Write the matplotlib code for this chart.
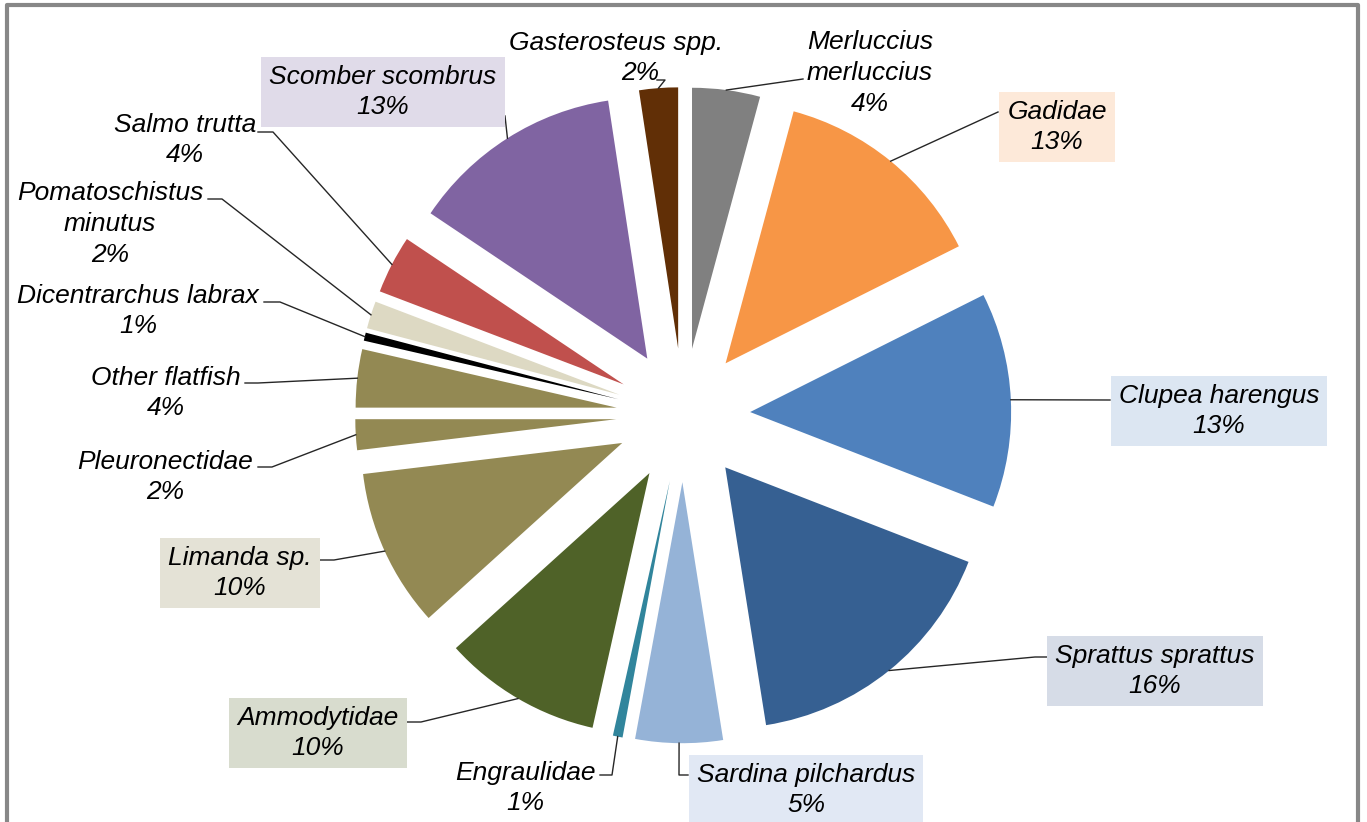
import numpy as np
import matplotlib
matplotlib.use("Agg")
from matplotlib import pyplot as plt

W, H = 1367, 822

# slices, clockwise from 12 o'clock
names = ["Merluccius\nmerluccius", "Gadidae", "Clupea harengus", "Sprattus sprattus",
         "Sardina pilchardus", "Engraulidae", "Ammodytidae", "Limanda sp.",
         "Pleuronectidae", "Other flatfish", "Dicentrarchus labrax",
         "Pomatoschistus\nminutus", "Salmo trutta", "Scomber scombrus", "Gasterosteus spp."]
shares = [4.2, 13.4, 13.3, 16.6, 5.4, 0.6, 9.8, 9.8, 1.9, 3.6, 0.5, 1.7, 3.6, 13.2, 2.4]
pct_labels = [4, 13, 13, 16, 5, 1, 10, 10, 2, 4, 1, 2, 4, 13, 2]
colors = ["#808080", "#F79646", "#4F81BD", "#366092", "#95B3D7", "#31859C", "#4F6228",
          "#938953", "#938953", "#938953", "#000000", "#DDD9C3", "#C0504D", "#8064A2",
          "#612F06"]

# label layout in pixel coords: text centre, box colour, attach point, elbow point
label_pos = [(870, 73), (1057, 127), (1219, 411), (1155, 671), (806, 790), (525, 788),
             (318, 733), (240, 573), (165, 477), (166, 393), (138, 311), (110, 224),
             (185, 140), (383, 92), (616, 58)]
pct_shift = [0, 0, 0, 0, 0, 0, 0, 0, 0, 0, 0, 0, 0, 0, 24]
box_col = [None, "#FDE9D9", "#DCE6F2", "#D6DCE7", "#E1E8F4", None, "#D8DCCE",
           "#E4E2D6", None, None, None, None, None, "#E0DBE9", None]
attach = [(803, 79), (998, 112), (1110, 400), (1047, 657), (688, 775), (600, 775),
          (407, 722), (320, 560), (258, 467), (245, 383), (264, 302), (208, 199),
          (258, 132), (505, 116), (657, 80)]
elbow = [(803, 79), (998, 112), (1110, 400), (1035, 657), (679, 775), (612, 775),
         (421, 722), (334, 560), (272, 467), (258, 383), (280, 302), (222, 199),
         (273, 132), (505, 116), (665, 80)]

cx, cy, R, expl = 683.2, 415.2, 261, 67

fig = plt.figure(figsize=(W / 100, H / 100), dpi=100)
ax = fig.add_axes([0, 0, 1, 1])

# y axis points down (pixel coords), so start at -90 and go "counterclock" = clockwise on screen
ax.pie(shares, colors=colors, explode=[expl] * len(shares), radius=R, center=(cx, cy),
       startangle=-90, counterclock=True, wedgeprops=dict(linewidth=0))
ax.set_xlim(0, W)
ax.set_ylim(H, 0)
ax.set_aspect("auto")
ax.axis("off")

font = dict(fontsize=19, fontstyle="italic", family=["Liberation Sans", "DejaVu Sans"],
            color="black", zorder=4, linespacing=1.35)

cum = np.cumsum(shares) - np.array(shares) / 2
tot = sum(shares)
for i, name in enumerate(names):
    a = np.deg2rad(-90 + 360 * cum[i] / tot)
    px = cx + (R + expl) * np.cos(a)
    py = cy + (R + expl) * np.sin(a)
    ex, ey = elbow[i]
    tx, ty = attach[i]
    ax.plot([px, ex, tx], [py, ey, ty], color="#262626", lw=1.0, zorder=3)
    x0, y0 = label_pos[i]
    if pct_shift[i]:
        # percentage line sits off-centre under the name
        ax.text(x0, y0 - 15, name, ha="center", va="center", **font)
        ax.text(x0 + pct_shift[i], y0 + 15, f"{pct_labels[i]}%", ha="center", va="center", **font)
        continue
    bb = None
    if box_col[i]:
        bb = dict(boxstyle="square,pad=0.3", fc=box_col[i], ec="none")
    ax.text(x0, y0, f"{name}\n{pct_labels[i]}%", ha="center", va="center",
            multialignment="center", bbox=bb, **font)

# chart frame (bottom edge is cut off)
ax.plot([7, 7, 1358, 1358], [H + 10, 5, 5, H + 10], color="#878787", lw=3,
        clip_on=False, zorder=5)

fig.savefig("out.png", dpi=100)
